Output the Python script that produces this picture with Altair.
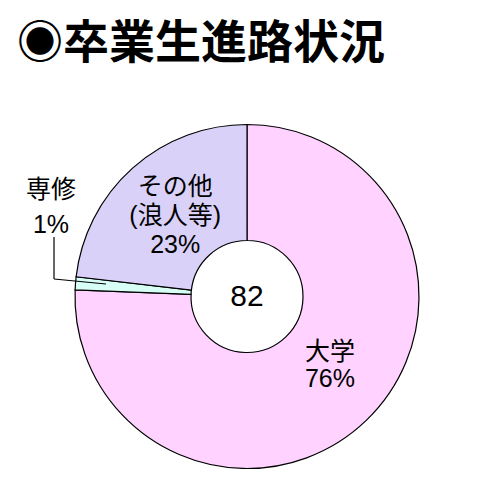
import altair as alt
import pandas as pd

# 卒業生進路状況 (82人)
categories = ["大学", "専修", "その他\n(浪人等)"]
counts = [62, 1, 19]
percents = [76, 1, 23]
colors = ["#FFD2FF", "#D8FFF6", "#D9D1F8"]
total = sum(counts)

df = pd.DataFrame({
    "category": categories,
    "count": counts,
    "order": list(range(len(categories))),
})
for i, (c, p) in enumerate(zip(categories, percents)):
    # one label column per slice so each can be nudged on its own
    df[f"label{i}"] = [f"{c}\n{p}%" if j == i else "" for j in range(len(categories))]

FONT = "Liberation Sans, Noto Sans CJK JP"
CX, CY = 239, 288.5

base = alt.Chart(df).encode(
    theta=alt.Theta("count:Q", stack=True),
    order=alt.Order("order:Q"),
)

pie = base.mark_arc(
    outerRadius=172, innerRadius=56, stroke="black", strokeWidth=1.2
).encode(
    x=alt.value(CX),
    y=alt.value(CY),
    color=alt.Color(
        "category:N",
        scale=alt.Scale(domain=categories, range=colors),
        legend=None,
    ),
)


def slice_label(col, line_h, dx, dy):
    return base.mark_text(
        radius=108, font=FONT, fontSize=25, lineBreak="\n", lineHeight=line_h,
        color="black", baseline="middle", dx=dx, dy=dy,
    ).encode(x=alt.value(CX), y=alt.value(CY), text=f"{col}:N")


label_univ = slice_label("label0", 27, 8, -22)
label_other = slice_label("label2", 29, 0, -29)

center = alt.Chart(pd.DataFrame({"t": [str(total)]})).mark_text(
    font=FONT, fontSize=30, color="black", baseline="middle"
).encode(x=alt.value(CX), y=alt.value(CY), text="t:N")

side_label = alt.Chart(pd.DataFrame({"t": [f"専修\n{percents[1]}%"]})).mark_text(
    font=FONT, fontSize=25, lineBreak="\n", lineHeight=35,
    color="black", baseline="middle",
).encode(x=alt.value(43), y=alt.value(182), text="t:N")

leader_v = alt.Chart(pd.DataFrame({"a": [0]})).mark_rule(
    color="black", strokeWidth=1.2
).encode(x=alt.value(46), y=alt.value(229), y2=alt.value(271))
leader_h = alt.Chart(pd.DataFrame({"a": [0]})).mark_rule(
    color="black", strokeWidth=1.2
).encode(x=alt.value(46), x2=alt.value(98), y=alt.value(271), y2=alt.value(276))

title = alt.Chart(pd.DataFrame({"t": ["◉卒業生進路状況"]})).mark_text(
    font="Noto Sans CJK JP", fontSize=46, fontWeight="bold",
    align="left", baseline="middle", color="black",
).encode(x=alt.value(9), y=alt.value(36), text="t:N")

chart = (
    alt.layer(pie, label_univ, label_other, center, side_label,
              leader_v, leader_h, title)
    .properties(width=474, height=484, padding=0, autosize="none")
    .configure_view(stroke=None)
)

chart.save("out.html", embed_options={"renderer": "svg", "actions": False})
